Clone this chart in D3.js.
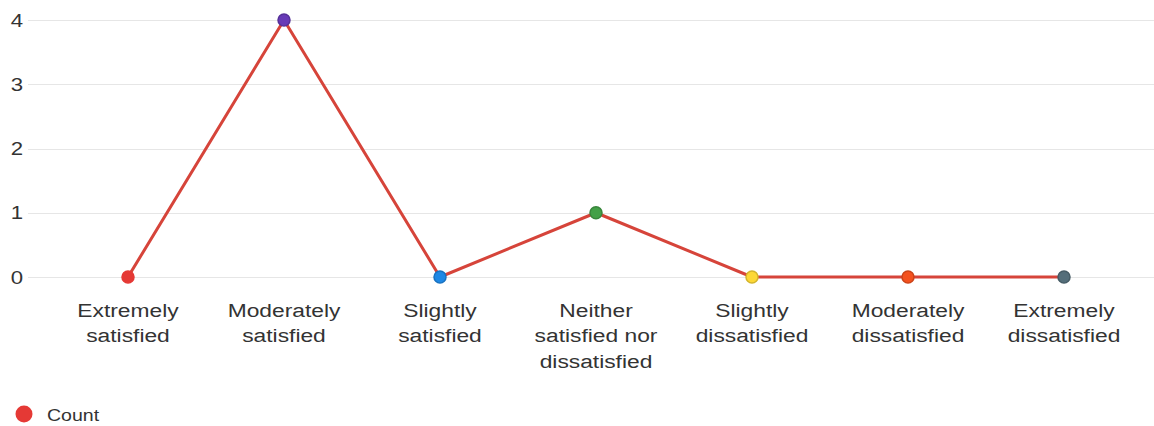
<!DOCTYPE html>
<html>
<head>
<meta charset="utf-8">
<script src="https://cdn.jsdelivr.net/npm/d3@7"></script>
<style>
    html, body { margin: 0; padding: 0; background: #fff; }
    svg { display: block; font-family: "Liberation Sans", Arial, sans-serif; }
    .grid line { stroke: #e6e6e6; stroke-width: 1; }
    .tick-label, .cat-label, .legend-label { fill: #333; }
</style>
</head>
<body>
<div id="chart"></div>
<script>
(function () {
    "use strict";

    const categories = [
        "Extremely satisfied",
        "Moderately satisfied",
        "Slightly satisfied",
        "Neither satisfied nor dissatisfied",
        "Slightly dissatisfied",
        "Moderately dissatisfied",
        "Extremely dissatisfied"
    ];
    const labelLines = [
        ["Extremely", "satisfied"],
        ["Moderately", "satisfied"],
        ["Slightly", "satisfied"],
        ["Neither", "satisfied nor", "dissatisfied"],
        ["Slightly", "dissatisfied"],
        ["Moderately", "dissatisfied"],
        ["Extremely", "dissatisfied"]
    ];
    const counts = [0, 4, 0, 1, 0, 0, 0];
    const pointColors = ["#e53935", "#673ab7", "#1e88e5", "#43a047", "#fdd835", "#f4511e", "#546e7a"];
    const yTicks = [0, 1, 2, 3, 4];
    const seriesName = "Count";

    const width = 1154;
    const height = 426;
    const lineColor = "#d6443a";
    const stretch = 1.2; // text in the source is drawn a little wide

    const x = d3.scaleBand().domain(categories).range([50, 1142]);
    const y = d3.scaleLinear().domain([0, 4]).range([277, 20]);

    const svg = d3.select("#chart").append("svg")
        .attr("width", width)
        .attr("height", height);

    // gridlines
    svg.append("g").attr("class", "grid")
        .selectAll("line")
        .data(yTicks)
        .join("line")
        .attr("x1", 28)
        .attr("x2", width)
        .attr("y1", (d) => Math.round(y(d)) + 0.5)
        .attr("y2", (d) => Math.round(y(d)) + 0.5);

    // y tick labels
    svg.append("g")
        .selectAll("text")
        .data(yTicks)
        .join("text")
        .attr("class", "tick-label")
        .attr("text-anchor", "end")
        .attr("font-size", 18.5)
        .attr("transform", (d) => `translate(23,${y(d) + 6.5}) scale(${stretch},1)`)
        .text((d) => d);

    // category labels
    const cat = svg.append("g")
        .selectAll("text")
        .data(categories)
        .join("text")
        .attr("class", "cat-label")
        .attr("text-anchor", "middle")
        .attr("font-size", 19)
        .attr("transform", (d) => `translate(${x(d) + x.bandwidth() / 2},317) scale(${stretch},1)`);

    cat.each(function (d, i) {
        const t = d3.select(this);
        labelLines[i].forEach((line, j) => {
            t.append("tspan").attr("x", 0).attr("y", j * 25.5).text(line);
        });
    });

    const cx = (d, i) => x(categories[i]) + x.bandwidth() / 2;

    const line = d3.line()
        .x(cx)
        .y((d) => y(d));

    svg.append("path")
        .datum(counts)
        .attr("fill", "none")
        .attr("stroke", lineColor)
        .attr("stroke-width", 3)
        .attr("stroke-linejoin", "round")
        .attr("d", line);

    svg.append("g")
        .selectAll("circle")
        .data(counts)
        .join("circle")
        .attr("cx", cx)
        .attr("cy", (d) => y(d))
        .attr("r", 6)
        .attr("fill", (d, i) => pointColors[i])
        .attr("stroke", (d, i) => i === 0 ? pointColors[i] : d3.color(pointColors[i]).darker(0.5))
        .attr("stroke-width", 1.5);

    // legend
    const legend = svg.append("g");
    legend.append("circle")
        .attr("cx", 24)
        .attr("cy", 414)
        .attr("r", 8.5)
        .attr("fill", "#e53935");
    legend.append("text")
        .attr("class", "legend-label")
        .attr("font-size", 17)
        .attr("transform", `translate(47,421) scale(1.15,1)`)
        .text(seriesName);
}());
</script>
</body>
</html>
